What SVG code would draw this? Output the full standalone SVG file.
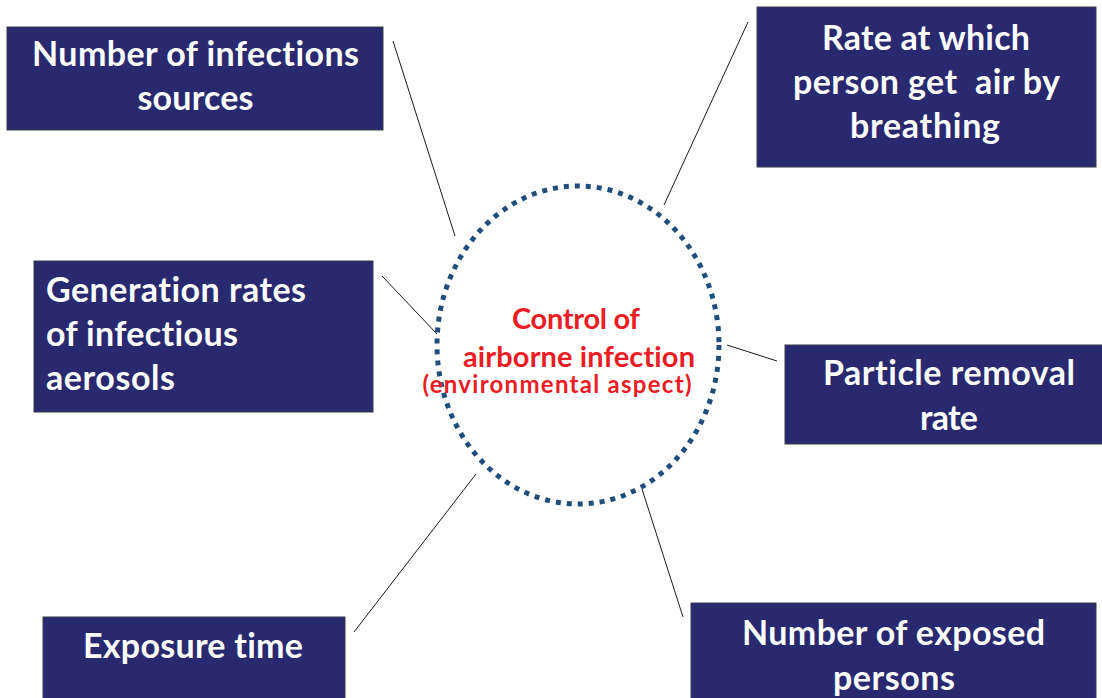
<svg xmlns="http://www.w3.org/2000/svg" width="1102" height="698" viewBox="0 0 1102 698">
  <style>
    .box { fill: #29296F; stroke: #3a3a48; stroke-width: 1; }
    .lbl { font-family: Lato, "Open Sans", "Liberation Sans", sans-serif; font-weight: 700; font-size: 34px; fill: #ffffff; font-variant-ligatures: none; }
    .mid { text-anchor: middle; }
    .link { stroke: #1a1a1a; stroke-width: 1; fill: none; }
    .hub { fill: none; stroke: #1F4E7D; stroke-width: 5; stroke-dasharray: 5 6; }
    .core { font-family: Lato, "Open Sans", "Liberation Sans", sans-serif; font-weight: 700; fill: #EC1C24; text-anchor: middle; font-variant-ligatures: none; }
  </style>
  <rect width="1102" height="698" fill="#ffffff"/>

  <!-- spokes from the central topic to each factor -->
  <g id="connectors">
    <line class="link" x1="393" y1="41" x2="455" y2="236"/>
    <line class="link" x1="748" y1="22" x2="664" y2="205"/>
    <line class="link" x1="382" y1="276" x2="437" y2="334"/>
    <line class="link" x1="727" y1="345" x2="777" y2="361"/>
    <line class="link" x1="476" y1="474" x2="354" y2="632"/>
    <line class="link" x1="642" y1="489" x2="683" y2="617"/>
  </g>

  <!-- central topic -->
  <g id="center">
    <ellipse class="hub" cx="578" cy="345" rx="141" ry="159"/>
    <text class="core" x="576" y="329" font-size="29" textLength="128">Control of</text>
    <text class="core" x="579" y="367" font-size="29" textLength="232">airborne infection</text>
    <text class="core" x="557" y="393" font-size="24" textLength="269">(environmental aspect)</text>
  </g>

  <g id="infection-sources">
    <rect class="box" x="7" y="27" width="376" height="103"/>
    <text class="lbl mid" x="195.5" y="66" textLength="327">Number of infections</text>
    <text class="lbl mid" x="195.5" y="110" textLength="116">sources</text>
  </g>

  <g id="breathing-rate">
    <rect class="box" x="757" y="7" width="339" height="160"/>
    <text class="lbl mid" x="926" y="50" textLength="208">Rate at which</text>
    <text class="lbl mid" x="926.5" y="94" textLength="267" xml:space="preserve">person get  air by</text>
    <text class="lbl mid" x="925" y="138" textLength="150">breathing</text>
  </g>

  <g id="generation-rates">
    <rect class="box" x="34" y="261" width="339" height="151"/>
    <text class="lbl" x="46" y="302" textLength="260">Generation rates</text>
    <text class="lbl" x="46" y="346" textLength="192">of infectious</text>
    <text class="lbl" x="46" y="390" textLength="129">aerosols</text>
  </g>

  <g id="removal-rate">
    <rect class="box" x="785" y="345" width="320" height="99"/>
    <text class="lbl mid" x="949" y="385" textLength="252">Particle removal</text>
    <text class="lbl mid" x="949" y="430" textLength="58">rate</text>
  </g>

  <g id="exposure-time">
    <rect class="box" x="43" y="617" width="302" height="90"/>
    <text class="lbl mid" x="193" y="658" textLength="220">Exposure time</text>
  </g>

  <g id="exposed-persons">
    <rect class="box" x="691" y="603" width="405" height="104"/>
    <text class="lbl mid" x="893.5" y="645" textLength="303">Number of exposed</text>
    <text class="lbl mid" x="894" y="690" textLength="122">persons</text>
  </g>
</svg>
